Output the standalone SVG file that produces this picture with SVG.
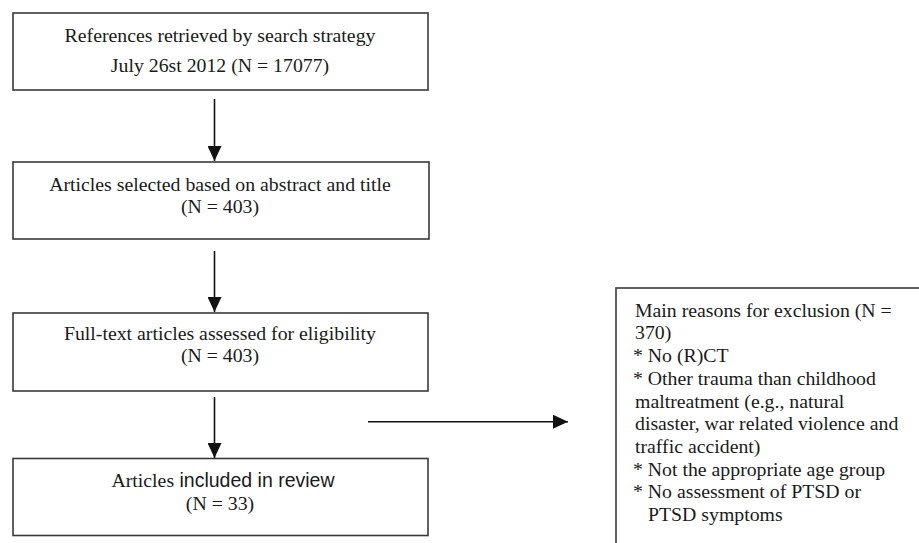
<svg xmlns="http://www.w3.org/2000/svg" width="919" height="543" viewBox="0 0 919 543">
<style>
.box{fill:#fff;stroke:#3a3a3a;stroke-width:1.6}
.t{font-family:"Liberation Serif","Times New Roman",serif;font-size:19.8px;fill:#1a1a1a}
.s{font-family:"Liberation Sans",Arial,sans-serif;font-size:19.5px}
.c{text-anchor:middle}
.ln{stroke:#111;stroke-width:1.6;fill:none}
</style>
<defs>
<marker id="ah" markerWidth="15" markerHeight="14" refX="15" refY="7" orient="auto" markerUnits="userSpaceOnUse">
<path d="M0,0 L15,7 L0,14 Z" fill="#111"/>
</marker>
</defs>
<g id="n1">
<rect class="box" x="13" y="13" width="415" height="77"/>
<text class="t c" x="220" y="41.7">References retrieved by search strategy</text>
<text class="t c" x="220" y="71.7">July 26st 2012 (N = 17077)</text>
</g>
<g id="n2">
<rect class="box" x="13" y="162" width="416" height="77"/>
<text class="t c" x="220" y="190.5">Articles selected based on abstract and title</text>
<text class="t c" x="220" y="213">(N = 403)</text>
</g>
<g id="n3">
<rect class="box" x="13" y="313" width="415" height="78"/>
<text class="t c" x="220" y="340">Full-text articles assessed for eligibility</text>
<text class="t c" x="220" y="362">(N = 403)</text>
</g>
<g id="n4">
<rect class="box" x="13" y="458.5" width="415" height="77"/>
<text class="t c" x="223" y="486.5">Articles<tspan class="s"> included in review</tspan></text>
<text class="t c" x="220" y="510">(N = 33)</text>
</g>
<g id="n5">
<rect class="box" x="616" y="288" width="320" height="270"/>
<text class="t" x="635" y="316.7">Main reasons for exclusion (N =</text>
<text class="t" x="635" y="339.4">370)</text>
<text class="t" x="633" y="362.1">* No (R)CT</text>
<text class="t" x="633" y="384.8">* Other trauma than childhood</text>
<text class="t" x="635" y="407.5">maltreatment (e.g., natural</text>
<text class="t" x="635" y="430.2">disaster, war related violence and</text>
<text class="t" x="635" y="452.9">traffic accident)</text>
<text class="t" x="633" y="475.6">* Not the appropriate age group</text>
<text class="t" x="633" y="498.3">* No assessment of PTSD or</text>
<text class="t" x="648" y="521">PTSD symptoms</text>
</g>
<g id="connectors">
<line class="ln" x1="214.5" y1="99" x2="214.5" y2="161" marker-end="url(#ah)"/>
<line class="ln" x1="214.5" y1="251" x2="214.5" y2="312" marker-end="url(#ah)"/>
<line class="ln" x1="214.5" y1="397" x2="214.5" y2="458" marker-end="url(#ah)"/>
<line class="ln" x1="368" y1="421.7" x2="568" y2="421.7" marker-end="url(#ah)"/>
</g>
</svg>
